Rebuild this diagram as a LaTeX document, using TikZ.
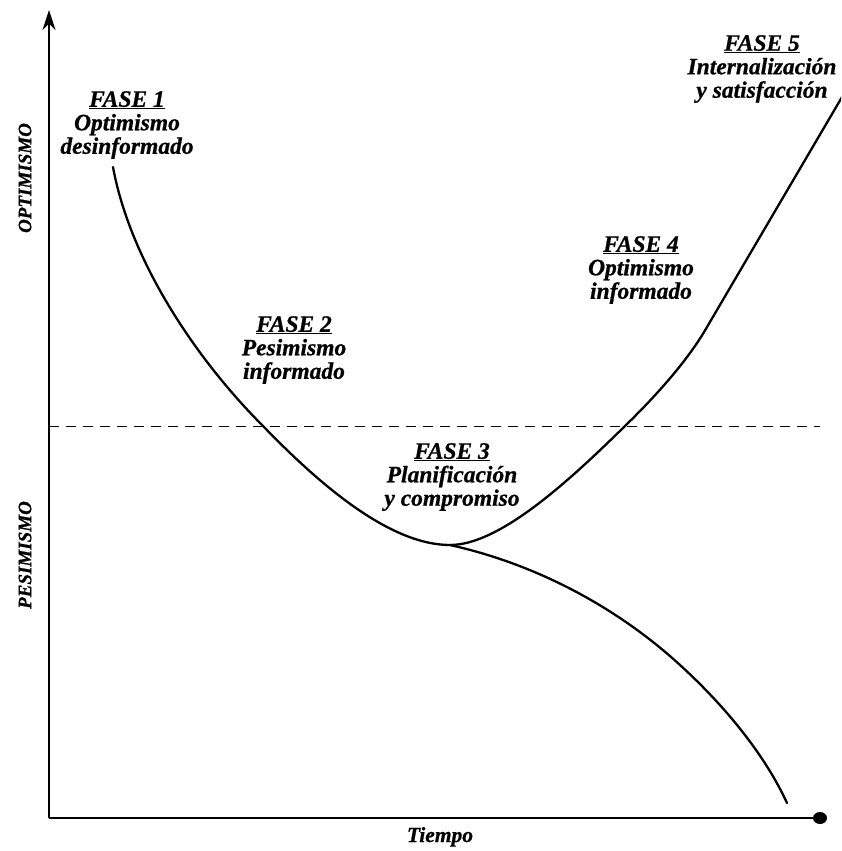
\documentclass[tikz,border=0pt]{standalone}
\usepackage{fontspec}
\setmainfont{Liberation Serif}[BoldItalicFeatures={FakeBold=0.8}]
\usetikzlibrary{arrows.meta,shapes.geometric}
\begin{document}
\begin{tikzpicture}[x=1pt,y=-1pt,
  phase/.style={font=\fontsize{23.5}{23.5}\selectfont\bfseries\itshape,
    align=center, inner sep=0pt},
  axislabel/.style={font=\fontsize{19}{20}\selectfont\bfseries\itshape,
    inner sep=0pt},
  axis/.style={line width=1.4pt},
  curve/.style={line width=2.3pt, line cap=round, line join=round},
  level/.style={line width=0.8pt, dash pattern=on 10pt off 7pt}]
\useasboundingbox (0,0) rectangle (841,851);
\clip (0,0) rectangle (841,851);

% axes
\coordinate (origin) at (49,818);
\coordinate (ytop) at (49,10);
\coordinate (xend) at (813,818);
\draw[axis,-{Stealth[length=20pt,width=13pt]}] (origin) -- (ytop);
\draw[axis] (origin) -- (xend);
\node[fill=black, ellipse, minimum width=14pt, minimum height=12pt,
      inner sep=0pt] (dot) at (820,818) {};
\draw[axis] (xend) -- (dot);

% neutral level
\coordinate (lvlA) at (49,426);
\coordinate (lvlB) at (820,426);
\draw[level] (lvlA) -- (lvlB);

% key points of the curve
\coordinate (start) at (113,167);
\coordinate (down) at (263,426);
\coordinate (low) at (450,545);
\coordinate (up) at (625,426);
\coordinate (bend) at (707,327);
\coordinate (top) at (852,80);
\coordinate (mid) at (680,665);
\coordinate (fall) at (787,803);

% falling curve, turning point and rise
\draw[curve] (start) .. controls (130,260) and (195,358) .. (down)
  .. controls (320,485) and (390,545) .. (low)
  .. controls (500,545) and (570,480) .. (up)
  .. controls (660,392) and (690,357) .. (bend)
  -- (top);

% lower branch
\draw[curve] (low) .. controls (540,565) and (620,610) .. (mid)
  .. controls (725,706) and (765,755) .. (fall);

% phase labels
\node[phase] (f1) at (127,125) {\underline{FASE 1}\\Optimismo\\desinformado};
\node[phase] (f2) at (294,350) {\underline{FASE 2}\\Pesimismo\\informado};
\node[phase] (f3) at (452,477) {\underline{FASE 3}\\Planificación\\y compromiso};
\node[phase] (f4) at (641,270) {\underline{FASE 4}\\Optimismo\\informado};
\node[phase] (f5) at (762,69) {\underline{FASE 5}\\Internalización\\y satisfacción};

% axis labels
\node[axislabel, rotate=90] (opt) at (25,178) {OPTIMISMO};
\node[axislabel, rotate=90] (pes) at (25,555) {PESIMISMO};
\node[axislabel, anchor=base, font=\fontsize{21.5}{22}\selectfont\bfseries\itshape] (time) at (440,842) {Tiempo};
\end{tikzpicture}
\end{document}
